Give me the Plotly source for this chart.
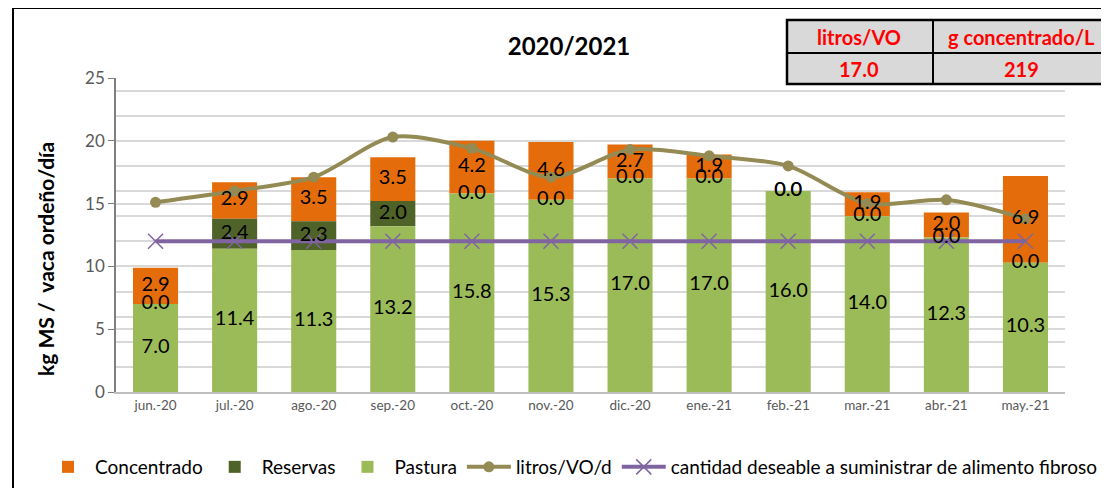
import plotly.graph_objects as go

# ---- data ----
months = ["jun.-20", "jul.-20", "ago.-20", "sep.-20", "oct.-20", "nov.-20",
          "dic.-20", "ene.-21", "feb.-21", "mar.-21", "abr.-21", "may.-21"]
pastura = [7.0, 11.4, 11.3, 13.2, 15.8, 15.3, 17.0, 17.0, 16.0, 14.0, 12.3, 10.3]
reservas = [0.0, 2.4, 2.3, 2.0, 0.0, 0.0, 0.0, 0.0, 0.0, 0.0, 0.0, 0.0]
concentrado = [2.9, 2.9, 3.5, 3.5, 4.2, 4.6, 2.7, 1.9, 0.0, 1.9, 2.0, 6.9]
litros_vo_d = [15.1, 16.0, 17.1, 20.3, 19.4, 17.1, 19.3, 18.8, 18.0, 15.0, 15.3, 13.8]
deseable = [12, 12, 12, 12, 12, 12, 12, 12, 12, 12, 12, 12]
table_headers = ["litros/VO", "g concentrado/L"]
table_values = ["17.0", "219"]
title_text = "2020/2021"

C_CONC = "#E46C0A"
C_RES = "#4F6228"
C_PAST = "#9BBB59"
C_LIT = "#948A54"
C_DES = "#8064A2"
FONT = "Lato"

fig = go.Figure()
fig.add_trace(go.Bar(name="Concentrado", x=months, y=concentrado, marker_color=C_CONC,
                     base=[p + r for p, r in zip(pastura, reservas)],
                     marker_line_width=0, legendrank=1))
fig.add_trace(go.Bar(name="Reservas", x=months, y=reservas, marker_color=C_RES,
                     base=pastura, marker_line_width=0, legendrank=2))
fig.add_trace(go.Bar(name="Pastura", x=months, y=pastura, marker_color=C_PAST,
                     marker_line_width=0, legendrank=3))
fig.add_trace(go.Scatter(name="litros/VO/d", x=months, y=litros_vo_d, mode="lines+markers",
                         line=dict(color=C_LIT, width=4, shape="spline", smoothing=0.8),
                         marker=dict(color=C_LIT, size=11), legendrank=4))
fig.add_trace(go.Scatter(name="cantidad deseable a suministrar de alimento fibroso",
                         x=months, y=deseable, mode="lines+markers",
                         line=dict(color=C_DES, width=4),
                         marker=dict(symbol="x-thin", size=15, line=dict(color=C_DES, width=1.5)),
                         legendrank=5))

# data labels (centred in each segment)
lab_font = dict(family=FONT, size=20, color="black")
fig.add_trace(go.Scatter(x=months, y=[p / 2 for p in pastura], mode="text",
                         text=[f"{v:.1f}" for v in pastura], textfont=lab_font,
                         showlegend=False, hoverinfo="skip"))
fig.add_trace(go.Scatter(x=months, y=[p + r / 2 for p, r in zip(pastura, reservas)], mode="text",
                         text=[f"{v:.1f}" for v in reservas], textfont=lab_font,
                         showlegend=False, hoverinfo="skip"))
fig.add_trace(go.Scatter(x=months, y=[p + r + c / 2 for p, r, c in zip(pastura, reservas, concentrado)],
                         mode="text", text=[f"{v:.1f}" for v in concentrado], textfont=lab_font,
                         showlegend=False, hoverinfo="skip"))

OFF = 8  # page body margin
W, H = 1109 - OFF, 488 - OFF
# plot area in reference pixels: x 116..1065, y 78..392
L, R, T, B = 116 - OFF, 1109 - 1065, 78 - OFF, 488 - 392
pw, ph = W - L - R, H - T - B


def px(x):
    return (x - OFF - L) / pw


def py(y):
    return (H - B - (y - OFF)) / ph


fig.update_layout(
    width=W, height=H, barmode="overlay", bargap=0.43,
    margin=dict(l=L, r=R, t=T, b=B, autoexpand=False),
    paper_bgcolor="white", plot_bgcolor="white",
    font=dict(family=FONT, color="black"),
    showlegend=True,
    legend=dict(orientation="h", x=px(41), y=py(467), xanchor="left", yanchor="middle",
                font=dict(family=FONT, size=19, color="black"), traceorder="normal",
                itemwidth=44, tracegroupgap=0, bgcolor="rgba(0,0,0,0)"),
    title=dict(text=f"<b>{title_text}</b>", xref="paper", x=px(569), xanchor="center",
               y=1 - (47 - OFF) / H, yanchor="middle", font=dict(family=FONT, size=24, color="black")),
)
fig.update_xaxes(range=[-0.5, len(months) - 0.5], showline=True, linecolor="#BFBFBF", linewidth=1.5,
                 ticks="", tickfont=dict(family=FONT, size=13.5, color="#595959"), showgrid=False)
fig.update_yaxes(range=[0, 25], dtick=5, tick0=0, showline=True, linecolor="#7F7F7F", linewidth=1.5,
                 ticks="outside", ticklen=6, tickcolor="#7F7F7F",
                 tickfont=dict(family=FONT, size=17, color="#595959"),
                 showgrid=True, gridcolor="#D9D9D9", gridwidth=1.5, zeroline=False,
                 minor=dict(dtick=2, tick0=0, showgrid=True, gridcolor="#D9D9D9", gridwidth=1.5))

# y-axis title
fig.add_annotation(text="<b>kg MS /  vaca ordeño/día</b>", textangle=-90, xref="paper", yref="paper",
                   x=px(45), y=py(259), xanchor="center", yanchor="middle", showarrow=False,
                   font=dict(family=FONT, size=21, color="black"))

# outer frame
fig.add_shape(type="rect", xref="paper", yref="paper", x0=px(13), x1=px(1115), y0=py(8), y1=py(495),
              line=dict(color="black", width=2), fillcolor="rgba(0,0,0,0)", layer="above")

# summary table
xs = [px(787), px(933), px(1115)]
ys = [py(20), py(53), py(84)]
fig.add_shape(type="rect", xref="paper", yref="paper", x0=xs[0], x1=xs[2], y0=ys[2], y1=ys[0],
              line=dict(color="black", width=2.5), fillcolor="#D9D9D9", layer="above")
fig.add_shape(type="line", xref="paper", yref="paper", x0=xs[0], x1=xs[2], y0=ys[1], y1=ys[1],
              line=dict(color="black", width=2), layer="above")
fig.add_shape(type="line", xref="paper", yref="paper", x0=xs[1], x1=xs[1], y0=ys[2], y1=ys[0],
              line=dict(color="black", width=2), layer="above")
col_centers = [px(859), px(1021)]
for i in range(2):
    fig.add_annotation(text=f"<b>{table_headers[i]}</b>", xref="paper", yref="paper",
                       x=col_centers[i], y=(ys[0] + ys[1]) / 2, xanchor="center", yanchor="middle",
                       showarrow=False, font=dict(family=FONT, size=20, color="#FF0000"))
    fig.add_annotation(text=f"<b>{table_values[i]}</b>", xref="paper", yref="paper",
                       x=col_centers[i], y=(ys[1] + ys[2]) / 2, xanchor="center", yanchor="middle",
                       showarrow=False, font=dict(family=FONT, size=20, color="#FF0000"))

fig.write_html("out.html")
